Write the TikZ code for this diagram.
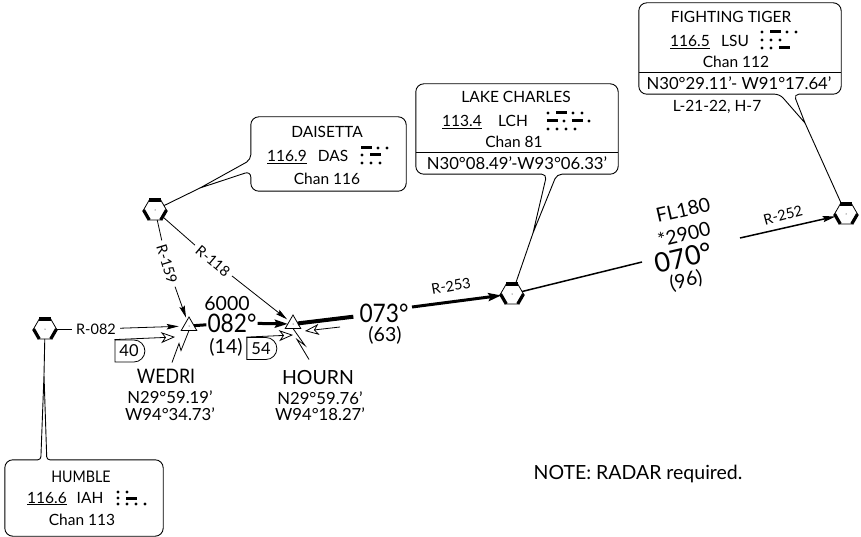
\documentclass[tikz,border=0pt]{standalone}
\usepackage{fontspec}
\setmainfont{Lato}
\newfontfamily\narrowfont[FakeStretch=0.89]{Lato}
\usepackage{tkz-graph}
\usetikzlibrary{arrows.meta,shapes.geometric,shapes.misc,calc}
\newcommand{\fsz}[1]{\fontsize{#1}{#1}\selectfont}
% one row of a station's code, d = dot, l = dash
\newcommand{\morse}[3]{%
  \xdef\mx{#1}%
  \foreach \m in {#3}{%
    \if\m d
      \fill (\mx,#2) circle (1.7);
      \pgfmathsetmacro\nx{\mx+9}\xdef\mx{\nx}%
    \else
      \draw[line width=3pt] (\mx-1,#2) -- ++(11,0);
      \pgfmathsetmacro\nx{\mx+16}\xdef\mx{\nx}%
    \fi}}
\tikzset{
  navaid/.style={shape=regular polygon,regular polygon sides=6,draw,minimum size=23pt,inner sep=0pt,line width=.8pt},
  fix/.style={shape=regular polygon,regular polygon sides=3,draw,minimum size=18pt,inner sep=0pt,line width=.8pt},
  callout/.style={line width=.9pt,line join=round},
  txt/.style={inner sep=0pt,font=\fsz{15.5}},
  posn/.style={inner sep=0pt,font=\fsz{16.7}},
  big/.style={inner sep=0pt,font=\fsz{19.5}},
  huge/.style={inner sep=0pt,font=\fsz{27}},
  course/.style={inner sep=1pt,font=\narrowfont\fsz{25.5}},
  radial/.style={inner sep=4pt,font=\fsz{14.5}},
  altbox/.style={rounded rectangle,rounded rectangle west arc=none,draw,line width=.8pt,minimum width=30pt,minimum height=22pt,inner sep=0pt,font=\fsz{16.5}},
  thin line/.style={line width=.8pt},
  solidarr/.style={line width=.8pt,-{Stealth[length=12pt,width=5.5pt,inset=2pt]}},
  openarr/.style={line width=.8pt,-{Stealth[open,length=14pt,width=11pt,inset=4pt]}},
  boldarr/.style={line width=3pt,-{Stealth[length=13pt,width=8pt,inset=2pt]}}
}
\begin{document}
\begin{tikzpicture}[x=1pt,y=-1pt]
  \useasboundingbox (0,0) rectangle (861,537);
  \SetVertexNoLabel
  \tikzset{VertexStyle/.style=navaid}
  \Vertex[x=45,y=329]{HUM}
  \Vertex[x=155,y=210]{DAS}
  \Vertex[x=512,y=294]{LCH}
  \Vertex[x=846,y=214]{LSU}
  \tikzset{VertexStyle/.style=fix}
  \Vertex[x=189,y=326]{WED}
  \Vertex[x=293,y=324]{HOU}
  \foreach \v in {HUM,DAS,LCH,LSU}{
    \draw[line width=3.2pt] (\v.corner 1) -- (\v.corner 2);
    \draw[line width=3.2pt] (\v.corner 3) -- (\v.corner 4);
    \draw[line width=3.2pt] (\v.corner 5) -- (\v.corner 6);
  }
  \foreach \v in {HUM,DAS,LCH,LSU,WED,HOU}
    \fill (\v) circle (.5);

  % humble
  \node[minimum width=158pt,minimum height=76pt,inner sep=0pt] (humbox) at (84,498) {};
  \coordinate (hummerge) at (44,375);
  \draw[callout,rounded corners=8] (humbox.south) -- (humbox.south west) -- (humbox.north west)
    [rounded corners=3] -- ([xshift=36]humbox.north west) [sharp corners] -- (hummerge)
    [rounded corners=3] -- ([xshift=42]humbox.north west) [rounded corners=8] -- (humbox.north east)
    -- (humbox.south east) -- cycle;
  \draw[callout] (hummerge) -- (HUM);
  \node[txt,font=\narrowfont\fsz{16}] (humname) at (81,477) {HUMBLE};
  \node[txt,anchor=base] (humfreq) at (47,503) {\underline{116.6}};
  \node[txt,anchor=base] (humid) at (90,503) {IAH};
  \node[txt] (humchan) at (82,520) {Chan 113};
  \morse{118}{492}{d,d}
  \morse{118}{498}{d,l}
  \morse{118}{504}{d,d,d,d}

  % daisetta
  \node[minimum width=155pt,minimum height=74pt,inner sep=0pt] (dasbox) at (328.5,154) {};
  \coordinate (dasmerge) at (200,188);
  \draw[callout,rounded corners=8] (dasbox.south) -- (dasbox.south west)
    [rounded corners=6] -- ([yshift=20]dasbox.south west) [sharp corners] -- (dasmerge)
    [rounded corners=5] -- ([yshift=-43]dasbox.north west) [rounded corners=8] -- (dasbox.north west)
    -- (dasbox.north east) -- (dasbox.south east) -- cycle;
  \draw[callout] (dasmerge) -- (DAS);
  \node[txt] (dasname) at (327,132) {DAISETTA};
  \node[txt,anchor=base] (dasfreq) at (287,162) {\underline{116.9}};
  \node[txt,anchor=base] (dasid) at (333,162) {DAS};
  \node[txt] (daschan) at (327,179) {Chan 116};
  \morse{362}{148}{l,d,d}
  \morse{362}{155}{d,l}
  \morse{362}{163}{d,d,d}

  % lake charles
  \node[minimum width=202pt,minimum height=90pt,inner sep=0pt] (lchbox) at (517,129) {};
  \coordinate (lchmerge) at (533,233);
  \draw[callout,rounded corners=8] (lchbox.north) -- (lchbox.north west) -- (lchbox.south west)
    [rounded corners=5] -- ([xshift=131]lchbox.south west) [sharp corners] -- (lchmerge)
    [rounded corners=5] -- ([xshift=141]lchbox.south west) [rounded corners=8] -- (lchbox.south east)
    -- (lchbox.north east) -- cycle;
  \draw[callout] (lchmerge) -- (LCH);
  \node[txt] (lchname) at (516,97) {LAKE CHARLES};
  \node[txt,anchor=base] (lchfreq) at (462,127) {\underline{113.4}};
  \node[txt,anchor=base] (lchid) at (513,127) {LCH};
  \node[txt] (lchchan) at (514,142) {Chan 81};
  \node[posn] (lchpos) at (517,163.5) {N30°08.49’-W93°06.33’};
  \draw[thin line] (lchbox.west |- 0,152) -- (lchbox.east |- 0,152);
  \morse{548}{113}{d,l,d,d}
  \morse{548}{121}{l,d,l,d}
  \morse{548}{129}{d,d,d,d}

  % fighting tiger
  \node[minimum width=202pt,minimum height=91pt,inner sep=0pt] (lsubox) at (740,48.5) {};
  \coordinate (lsumerge) at (805,123);
  \draw[callout,rounded corners=8] (lsubox.north) -- (lsubox.north west) -- (lsubox.south west)
    [rounded corners=5] -- ([xshift=141]lsubox.south west) [sharp corners] -- (lsumerge)
    [rounded corners=5] -- ([xshift=155]lsubox.south west) [rounded corners=8] -- (lsubox.south east)
    -- (lsubox.north east) -- cycle;
  \draw[callout] (lsumerge) -- (LSU);
  \node[txt] (lsuname) at (731,17) {FIGHTING TIGER};
  \node[txt,anchor=base] (lsufreq) at (690,47) {\underline{116.5}};
  \node[txt,anchor=base] (lsuid) at (735,47) {LSU};
  \node[txt] (lsuchan) at (736,62) {Chan 112};
  \node[posn] (lsupos) at (739,83.5) {N30°29.11’- W91°17.64’};
  \node[txt] (lsuairway) at (717,107) {L-21-22, H-7};
  \draw[thin line] (lsubox.west |- 0,72) -- (lsubox.east |- 0,72);
  \morse{762}{32}{d,l,d,d}
  \morse{762}{40}{d,d,d}
  \morse{762}{48}{d,d,l}

  % radials
  \node[radial] (r082) at (96,329) {R-082};
  \node[radial,rotate=-73] (r159) at (167,264) {R-159};
  \node[radial,rotate=-40] (r118) at (213,261) {R-118};
  \draw[thin line] (HUM) -- (r082);
  \draw[solidarr,shorten >=5pt] (r082) -- (WED);
  \draw[thin line] (DAS) -- (r159);
  \draw[solidarr,shorten >=3pt] (r159) -- (WED);
  \draw[thin line] (DAS) -- (r118);
  \draw[solidarr,shorten >=3pt] (r118) -- (HOU);
  \node[inner sep=0pt,rotate=10,font=\fsz{14.5}] (r253) at (451,286) {R-253};
  \node[inner sep=0pt,rotate=15,font=\fsz{14.5}] (r252) at (783,215) {R-252};

  % courses
  \node[big] (alt6000) at (227,304) {6000};
  \node[course] (crs082) at (232,323) {082°};
  \node[big] (dst14) at (226,347) {(14)};
  \node[course,inner sep=6pt] (crs073) at (384,313) {073°};
  \node[big] (dst63) at (385,335) {(63)};
  \coordinate (gapc) at (412,307);
  \draw[line width=3pt] (WED) -- (crs082);
  \draw[boldarr] (crs082) -- (HOU);
  \draw[line width=4pt] (HOU) -- (crs073);
  \draw[boldarr] (gapc) -- (LCH);
  \coordinate (gapa) at (642,262);
  \coordinate (gapb) at (740,238);
  \draw[line width=1.5pt] (LCH) -- (gapa);
  \draw[line width=1.5pt,-{Stealth[length=13pt,width=6pt,inset=2pt]}] (gapb) -- (LSU);
  \node[big,rotate=13] (fl180) at (683,210) {FL180};
  \node[big,rotate=13] (alt2900) at (684,234) {*2900};
  \node[huge,rotate=13] (crs070) at (683,258) {070°};
  \node[big,rotate=13] (dst96) at (686,281) {(96)};

  % fixes
  \node[altbox] (box40) at (129,351) {40};
  \node[altbox] (box54) at (261,348.5) {54};
  \coordinate (wedtip) at (175,337);
  \coordinate (houtip) at (293,335);
  \coordinate (houright) at (340,327);
  \coordinate (houtipb) at (305,331);
  \draw[openarr] (box40.north west) -- (wedtip);
  \draw[openarr] (box54.north west) -- (houtip);
  \draw[openarr] (houright) -- (houtipb);
  \node[big,font=\narrowfont\fsz{20}] (wedlbl) at (166,376) {WEDRI};
  \node[posn] (wedlat) at (170,397) {N29°59.19’};
  \node[posn] (wedlon) at (170,414) {W94°34.73’};
  \node[big] (houlbl) at (318,378) {HOURN};
  \node[posn] (houlat) at (320,398) {N29°59.76’};
  \node[posn] (houlon) at (320,414) {W94°18.27’};
  \draw[thin line] (WED.south) -- ++(-8,20) -- ++(-2,-7) -- ++(-7,19);
  \draw[thin line] (HOU.south) -- ++(12,17) -- ++(-8,-6) -- ++(12,20);

  \node[inner sep=0pt,font=\fsz{19.5}] (note) at (638,474) {NOTE: RADAR required.};
\end{tikzpicture}
\end{document}
